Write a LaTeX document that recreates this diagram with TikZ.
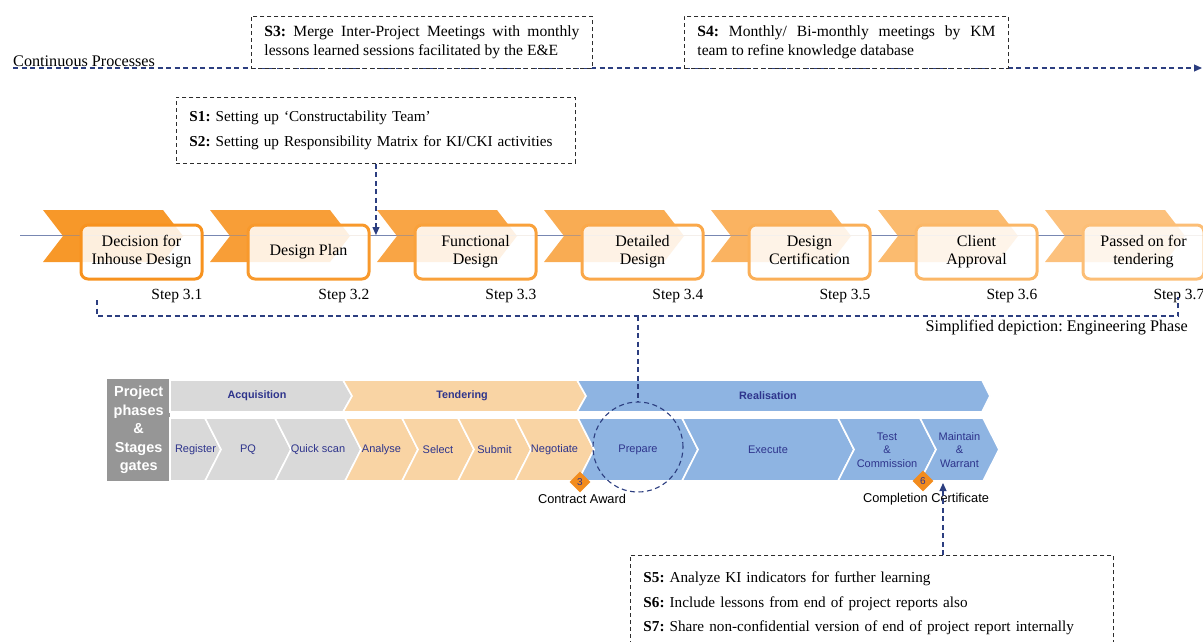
\documentclass[tikz,border=0pt]{standalone}
\usepackage{fontspec}
\setmainfont{Liberation Serif}
\setsansfont{Liberation Sans}
\usetikzlibrary{arrows.meta,shapes.geometric,calc}
\frenchspacing

% palette
\definecolor{navy}{RGB}{44,62,128}
\definecolor{labnavy}{RGB}{46,52,140}
\definecolor{notegray}{RGB}{45,45,45}
\definecolor{chevdark}{RGB}{247,146,30}
\definecolor{chevlight}{RGB}{252,190,118}
\definecolor{railblue}{RGB}{120,135,178}
\definecolor{acqgray}{RGB}{217,217,217}
\definecolor{tenpeach}{RGB}{249,212,164}
\definecolor{reablue}{RGB}{142,180,226}
\definecolor{pphgray}{RGB}{150,150,150}
\definecolor{gateorange}{RGB}{242,140,30}

% type sizes
\newcommand\stepfnt{\fontsize{16}{18}\selectfont}
\newcommand\notefnt{\fontsize{15.6}{19}\selectfont}
\newcommand\listfnt{\fontsize{15.2}{24.3}\selectfont}
\newcommand\capfnt{\fontsize{16.2}{17}\selectfont}
\newcommand\steplabfnt{\fontsize{15.5}{17}\selectfont}
\newcommand\phfnt{\sffamily\bfseries\fontsize{10.8}{12}\selectfont}
\newcommand\stfnt{\sffamily\fontsize{11}{13.5}\selectfont}

\tikzset{
  notebox/.style={draw=notegray, dash pattern=on 4pt off 3pt, line width=0.9pt,
    fill=white, inner xsep=13pt, anchor=north west, align=left},
  stepbox/.style={line width=3pt, rounded corners=7pt, fill=white, fill opacity=0.85,
    text opacity=1, minimum width=121pt, minimum height=54pt, align=center,
    font=\stepfnt, anchor=north west, inner sep=2pt},
  navydash/.style={draw=navy, line width=1.1pt, dash pattern=on 5pt off 3.5pt},
  navyarrow/.style={navydash, -{Triangle[length=8pt,width=7pt]}},
  stagecell/.style={draw=white, line width=1.6pt},
  stagelabel/.style={font=\stfnt, text=labnavy, align=center, inner sep=0pt},
  phaselabel/.style={font=\phfnt, text=labnavy, inner sep=0pt},
  gate/.style={diamond, fill=gateorange, minimum width=21pt, minimum height=21pt,
    inner sep=0pt, font=\sffamily\fontsize{10}{10}\selectfont, text=labnavy},
  footlabel/.style={font=\sffamily\fontsize{12.8}{14}\selectfont, inner sep=0pt},
}

\begin{document}
\begin{tikzpicture}[x=1pt,y=-1pt]
\useasboundingbox (0,0) rectangle (1203,641);

% ---------- continuous processes ----------
\node[anchor=base west, font=\capfnt, inner sep=0pt] (cp) at (13,66) {Continuous Processes};
\coordinate (cpstart) at (13,68);
\coordinate (cpend) at (1202,68);
\draw[navyarrow] (cpstart) -- (cpend);

\node[notebox, font=\notefnt, minimum height=52pt] (s3) at (251,16)
  {\makebox[315pt][s]{\textbf{S3:} Merge Inter-Project Meetings with monthly}\\
   lessons learned sessions facilitated by the E\&E};
\node[notebox, font=\notefnt, minimum height=52pt] (s4) at (684,16)
  {\makebox[298pt][s]{\textbf{S4:} Monthly/ Bi-monthly meetings by KM}\\
   team to refine knowledge database};

% ---------- engineering phase steps ----------
\node[notebox, font=\listfnt, text width=373pt, minimum height=66pt] (s12) at (176,97)
  {\textbf{S1:} Setting up `Constructability Team'\\
   \textbf{S2:} Setting up Responsibility Matrix for KI/CKI activities};

\coordinate (railL) at (20,235);
\coordinate (railR) at (1203,235);
\draw[railblue, line width=1pt] (railL) -- (railR);

\foreach \i/\txt in {0/{Decision for\\Inhouse Design},1/{Design Plan},
    2/{Functional\\Design},3/{Detailed\\Design},4/{Design\\Certification},
    5/{Client\\Approval},6/{Passed on for\\tendering}}{
  \pgfmathsetmacro\x{43+167*\i}
  \pgfmathtruncatemacro\p{\i*100/6}
  \pgfmathtruncatemacro\n{\i+1}
  \colorlet{chevc}{chevlight!\p!chevdark}
  \fill[chevc, opacity=0.95] (\x,210) -- ++(120,0) -- ++(20,26) -- ++(-20,26)
     -- ++(-120,0) -- ++(20,-26) -- cycle;
  \draw[railblue!50!chevc, line width=0.8pt] (\x+20,235) -- (\x+160,235);
  \node[stepbox, draw=chevc] (b\i) at (\x+36.5,223.5) {\strut\txt\strut};
  \node[anchor=base east, font=\steplabfnt, inner sep=0pt] (st\i)
     at ($(b\i.south east)+(-1,19)$) {Step 3.\n};
}

\draw[navyarrow] (s12.south) -- (s12.south |- railL);

% bracket gathering the engineering steps
\coordinate (brL) at (97,300);
\coordinate (brR) at (1178,297);
\coordinate (brY) at (0,316);
\draw[navydash] (brL) -- (brL |- brY) -- (brR |- brY) -- (brR);
\node[anchor=base east, font=\capfnt, inner sep=0pt] (simp) at (1188,331)
  {Simplified depiction: Engineering Phase};

% ---------- project phases ----------
\node[fill=pphgray, minimum width=63pt, minimum height=102pt, anchor=north west,
  inner sep=0pt, align=center, text=white,
  font=\sffamily\bfseries\fontsize{14.5}{18.5}\selectfont] (pp) at (107,379)
  {Project\\phases\\\&\\Stages\\gates};

\filldraw[fill=acqgray, stagecell] (170,380) -- (343,380) -- (352,396) -- (343,412)
  -- (170,412) -- cycle;
\filldraw[fill=tenpeach, stagecell] (343,380) -- (577,380) -- (586,396) -- (577,412)
  -- (343,412) -- (352,396) -- cycle;
\filldraw[fill=reablue, stagecell] (577,380) -- (982,380) -- (990,396) -- (982,412)
  -- (577,412) -- (586,396) -- cycle;
\node[phaselabel] (acq) at (257,396) {Acquisition};
\node[phaselabel] (ten) at (462,396) {Tendering};
\node[phaselabel] (rea) at (768,396) {Realisation};

\foreach \l/\r/\nd/\col/\name/\txt in {
    170/205/0/acqgray/reg/Register, 205/275/16/acqgray/pq/PQ,
    275/345/16/acqgray/qs/Quick scan, 345/402/16/tenpeach/ana/Analyse,
    402/458/16/tenpeach/sel/Select, 458/515/16/tenpeach/sub/Submit,
    515/578/16/tenpeach/neg/Negotiate, 578/682/16/reablue/pre/Prepare,
    682/838/16/reablue/exe/Execute, 838/920/16/reablue/tc/{Test\\\&\\Commission},
    920/983/16/reablue/mw/{Maintain\\\&\\Warrant}}{
  \filldraw[fill=\col, stagecell] (\l,418) -- (\r,418) -- (\r+16,449.5) -- (\r,481)
    -- (\l,481) -- (\l+\nd,449.5) -- cycle;
  \node[stagelabel] (\name) at ({(\l+\r)/2+8},450) {\txt};
}

% stage gates
\node[gate] (g3) at (580,482) {3};
\node[gate] (g6) at (923,481) {6};
\node[footlabel] (ca) at (582,499) {Contract Award};
\node[footlabel] (cc) at (926,499) {Completion Certificate};

% focus on the preparation stage
\node[circle, navydash, minimum size=90pt, inner sep=0pt] (circ) at (638,447) {};
\draw[navydash] (circ.north |- brY) -- (circ.north);

% ---------- post-project learning ----------
\node[notebox, font=\listfnt, text width=457pt, minimum height=96pt] (s57) at (630,555)
  {\textbf{S5:} Analyze KI indicators for further learning\\
   \textbf{S6:} Include lessons from end of project reports also\\
   \textbf{S7:} Share non-confidential version of end of project report internally};
\coordinate (ccup) at (943,483);
\draw[navyarrow] (ccup |- s57.north) -- (ccup);

\end{tikzpicture}
\end{document}
